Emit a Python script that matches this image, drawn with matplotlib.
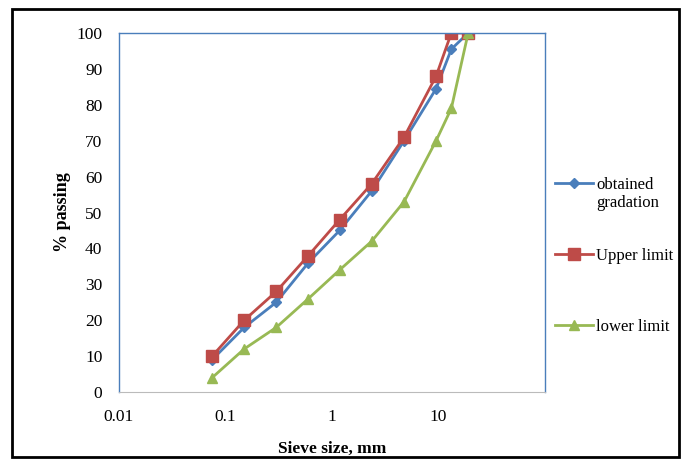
import matplotlib
matplotlib.use("Agg")
from matplotlib import pyplot as plt
from matplotlib.patches import Rectangle

sieve = [0.075, 0.15, 0.3, 0.6, 1.18, 2.36, 4.75, 9.5, 13.2, 19]
obtained = [9, 18, 25, 36, 45, 56, 70, 84.5, 95.5, 100]
upper = [10, 20, 28, 38, 48, 58, 71, 88, 100, 100]
lower = [4, 12, 18, 26, 34, 42, 53, 70, 79, 100]

x_ticks = [0.01, 0.1, 1, 10]
x_labels = ["0.01", "0.1", "1", "10"]

plt.rcParams['font.family'] = ['Liberation Serif', 'DejaVu Serif']

fig = plt.figure(figsize=(6.82, 4.59), dpi=100)
ax = fig.add_axes([119 / 682, 1 - 392 / 459, (545 - 119) / 682, (392 - 33) / 459])

blue = '#4A7EBB'
red = '#BE4B48'
green = '#98B954'

l1, = ax.plot(sieve, obtained, color=blue, marker='D', markersize=5, lw=2,
              label='obtained')
l2, = ax.plot(sieve, upper, color=red, marker='s', markersize=8, lw=2,
              label='Upper limit')
l3, = ax.plot(sieve, lower, color=green, marker='^', markersize=7, lw=2,
              label='lower limit')

ax.set_xscale('log')
ax.set_xlim(0.01, 100)
ax.set_ylim(0, 100)
ax.set_xticks(x_ticks)
ax.set_xticklabels(x_labels)
ax.minorticks_off()
ax.set_yticks(range(0, 101, 10))
ax.tick_params(length=0, labelsize=12.5, pad=12)

for side in ['top', 'right', 'left']:
    ax.spines[side].set_color(blue)
    ax.spines[side].set_linewidth(1)
ax.spines['bottom'].set_color('#BBBBBB')

ax.set_xlabel('Sieve size, mm', fontweight='bold', fontsize=12.5, labelpad=12)
ax.set_ylabel('% passing', fontweight='bold', fontsize=13, labelpad=4)

leg = fig.legend(handles=[l1, l2, l3], loc='upper left', bbox_to_anchor=(548 / 682, 1 - 170 / 459),
                 frameon=False, fontsize=12, labelspacing=3.3, handlelength=2.3,
                 handletextpad=0.2, borderaxespad=0)

# second line of the first legend label, placed under "obtained"
fig.canvas.draw()
bb = leg.get_texts()[0].get_window_extent().transformed(fig.transFigure.inverted())
fig.text(bb.x0, bb.y0 - 0.005, 'gradation', fontsize=12, va='top', ha='left')

fig.patches.append(Rectangle((12 / 682, 2 / 459), 667 / 682, 448 / 459, transform=fig.transFigure,
                             fill=False, edgecolor='black', linewidth=2))

fig.savefig('out.png', dpi=100)
